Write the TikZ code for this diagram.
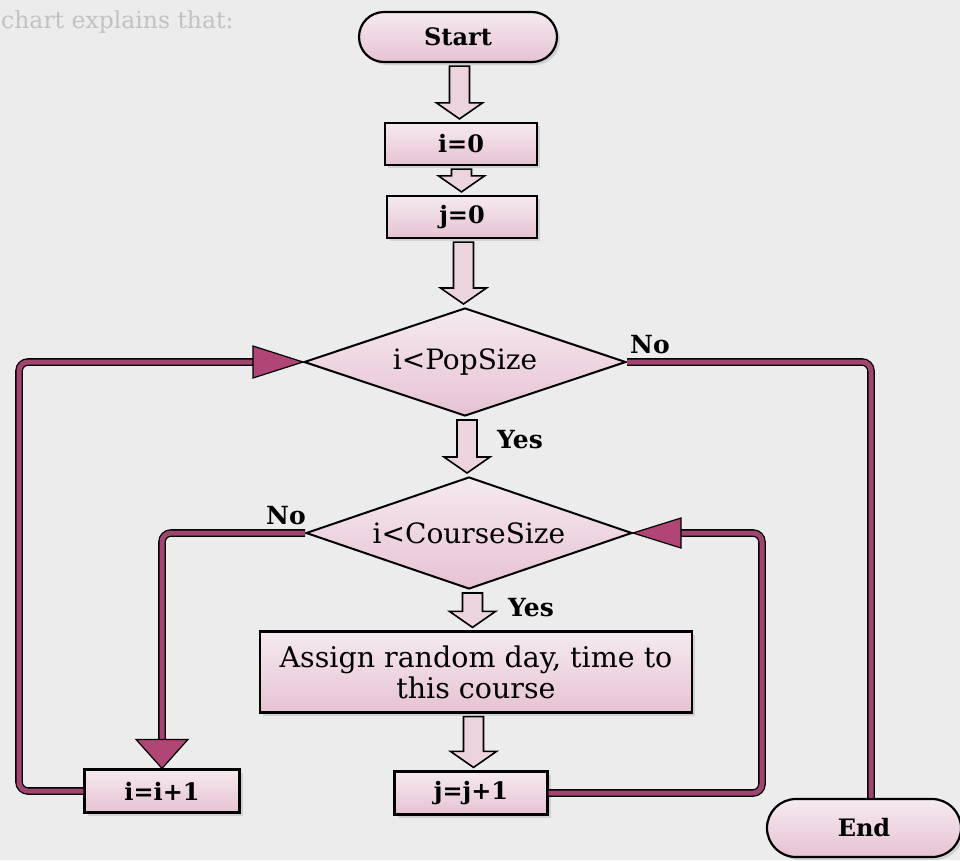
\documentclass[tikz,border=0pt]{standalone}
\usepackage{fontspec}
\setmainfont{DejaVu Serif}
\usetikzlibrary{shapes.geometric,calc,shadows}

\definecolor{paper}{RGB}{236,236,236}
\definecolor{boxtop}{RGB}{245,234,240}
\definecolor{boxbot}{RGB}{230,194,211}
\definecolor{linkc}{RGB}{160,68,112}
\definecolor{headc}{RGB}{176,70,118}
\definecolor{hollowc}{RGB}{236,212,223}

% hollow block arrow from the bottom of #1 to the top of #2
\newcommand\harrow[2]{%
  \draw[hollow] let \p1=(#1.south), \p2=(#2.north), \n1={(\x1+\x2)/2} in
    ({\n1*1pt-10pt},{\y1-3pt}) -- ({\n1*1pt+10pt},{\y1-3pt})
    -- ({\n1*1pt+10pt},{\y2+19pt}) -- ({\n1*1pt+23pt},{\y2+19pt})
    -- ({\n1*1pt},{\y2+3pt})
    -- ({\n1*1pt-23pt},{\y2+19pt}) -- ({\n1*1pt-10pt},{\y2+19pt}) -- cycle;}

\begin{document}
\begin{tikzpicture}[x=1pt,y=-1pt,
  shade/.style={drop shadow={shadow xshift=3pt,shadow yshift=-3pt,fill=black!30,opacity=.45}},
  box/.style={draw=black, line width=2.2pt, top color=boxtop, bottom color=boxbot,
    inner sep=0pt, shade, font=\fontsize{24}{28}\selectfont\bfseries},
  term/.style={box, rounded corners=25pt, font=\fontsize{24}{27}\selectfont\bfseries},
  dec/.style={diamond, aspect=3, draw=black, line width=2pt, top color=boxtop, bottom color=boxbot,
    inner sep=0pt, font=\fontsize{28}{32}\selectfont},
  lbl/.style={font=\fontsize{25}{28}\selectfont\bfseries, inner sep=0pt},
  hollow/.style={draw=black, line width=1.6pt, fill=hollowc, line join=miter},
  conn/.style={double=linkc, double distance=5pt, line width=1.3pt, rounded corners=9pt},
  headst/.style={draw=black, line width=1.2pt, fill=headc, line join=miter}]

\fill[paper] (0,0) rectangle (960,860);
\useasboundingbox (0,0) rectangle (960,860);

\node[anchor=west, text=black!24, font=\fontsize{23.5}{26}\selectfont, inner sep=0pt]
  (intro) at (1,22) {chart explains that:};

% blocks
\node[term, minimum width=198pt, minimum height=50pt] (start) at (458,37) {Start};
\node[box, minimum width=152pt, minimum height=42pt] (i0) at (461,144) {i=0};
\node[box, minimum width=150pt, minimum height=42pt] (j0) at (462,217) {j=0};
\node[dec, minimum width=322pt, minimum height=108pt] (d1) at (465,362) {i<PopSize};
\node[dec, minimum width=326pt, minimum height=112pt] (d2) at (469,533) {i<CourseSize};
\node[box, minimum width=432pt, minimum height=81pt, align=center,
  font=\fontsize{28.5}{31}\selectfont] (assign) at (476,672)
  {Assign random day, time to\\this course};
\node[box, minimum width=153pt, minimum height=43pt] (jj) at (471,793) {j=j+1};
\node[box, minimum width=155pt, minimum height=43pt] (ii) at (162,791) {i=i+1};
\node[term, minimum width=194pt, minimum height=58pt, rounded corners=29pt] (end) at (864,828) {End};

% straight-down block arrows
\harrow{start}{i0}
\harrow{i0}{j0}
\harrow{j0}{d1}
\harrow{d1}{d2}
\harrow{d2}{assign}
\harrow{assign}{jj}

% loop connectors
\coordinate (lx) at (19,0);
\coordinate (rx) at (871,0);
\coordinate (mx) at (762,0);

\draw[conn] (ii.west) -| (lx |- d1.west) -- ($(d1.west)+(-48,0)$);
\draw[headst] (d1.west) -- ++(-50,-16) -- ++(0,32) -- cycle;

\draw[conn] (d1.east) -| (rx |- end.north);

\draw[conn] (d2.west) -| ($(ii.north)+(0,-27)$);
\draw[headst] (ii.north) -- ++(-26,-29) -- ++(52,0) -- cycle;

\draw[conn] (jj.east) -| (mx |- d2.east) -- ($(d2.east)+(46,0)$);
\draw[headst] (d2.east) -- ++(48,-15) -- ++(0,30) -- cycle;

% branch labels
\node[lbl] (no1) at (650,345) {No};
\node[lbl] (yes1) at (520,440) {Yes};
\node[lbl] (no2) at (286,516) {No};
\node[lbl] (yes2) at (531,608) {Yes};
\end{tikzpicture}
\end{document}
